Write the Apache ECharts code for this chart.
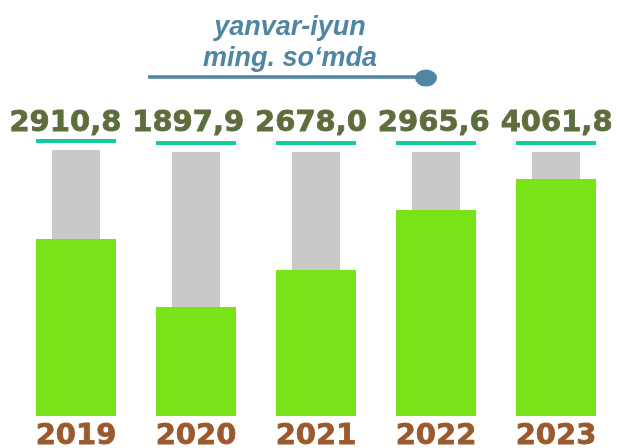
<!DOCTYPE html>
<html>
<head>
<meta charset="utf-8">
<script src="https://cdn.jsdelivr.net/npm/echarts@6/dist/echarts.min.js"></script>
<style>
html, body { margin: 0; padding: 0; background: #fff; }
#chart { width: 617px; height: 448px; }
</style>
</head>
<body>
<div id="chart"></div>
<script>
const years = ['2019', '2020', '2021', '2022', '2023'];
const values = [2910.8, 1897.9, 2678.0, 2965.6, 4061.8];
// bar heights as drawn in the picture (decorative, not proportional to values)
const greenLevels = [177, 109, 146, 206, 237];
const grayLevels = [266, 264, 264, 264, 264];
const titleLines = ['yanvar-iyun', 'ming. so‘mda'];

const blue = '#4f86a3';
const olive = '#5e6d3d';
const brown = '#9b5a2e';

function fmt(v) {
    return v.toFixed(1).replace('.', ',');
}

const chart = echarts.init(document.getElementById('chart'));
chart.setOption({
    animation: false,
    grid: [
        { left: 16, right: 1, top: 150, bottom: 32, outerBoundsMode: 'none' },
        // label row, a bit wider than the bars
        { left: 4, right: -1, top: 100, bottom: 310, outerBoundsMode: 'none' }
    ],
    xAxis: [
        { type: 'category', gridIndex: 0, position: 'top', data: years, show: false },
        {
            type: 'category', gridIndex: 0, position: 'bottom', data: years,
            axisLine: { show: false }, axisTick: { show: false }, splitLine: { show: false },
            axisLabel: {
                interval: 0, margin: 6,
                fontFamily: 'DejaVu Sans', fontWeight: 'bold', fontSize: 29, color: brown,
                textBorderColor: brown, textBorderWidth: 0.8
            }
        },
        { type: 'category', gridIndex: 1, data: years, show: false }
    ],
    yAxis: [
        { type: 'value', gridIndex: 0, min: 0, max: 266, show: false },
        { type: 'value', gridIndex: 1, min: 0, show: false }
    ],
    series: [
        {
            type: 'bar', xAxisIndex: 0, yAxisIndex: 0, data: grayLevels, barWidth: 48,
            silent: true,
            itemStyle: { color: '#c9c9c9' },
            label: {
                show: true, position: 'top', distance: 7,
                formatter: '{u| }',
                rich: { u: { width: 80, height: 4, lineHeight: 4, fontSize: 1, backgroundColor: '#12cc9a' } }
            }
        },
        {
            type: 'bar', xAxisIndex: 1, yAxisIndex: 0, data: greenLevels, barWidth: 80,
            silent: true,
            itemStyle: { color: '#7ae317' }
        },
        {
            type: 'bar', xAxisIndex: 2, yAxisIndex: 1, data: values, barWidth: 80,
            silent: true,
            itemStyle: { color: 'transparent' },
            label: {
                show: true, position: 'insideBottom', distance: 0,
                formatter: p => fmt(p.value),
                fontFamily: 'DejaVu Sans', fontWeight: 'bold', fontSize: 29,
                color: olive, textBorderColor: olive, textBorderWidth: 0.8
            }
        }
    ],
    graphic: [
        {
            type: 'text', x: 290, y: 12,
            style: {
                text: titleLines.join('\n'),
                font: 'italic bold 27px "Liberation Sans"',
                fill: blue, align: 'center', verticalAlign: 'top', lineHeight: 31
            }
        },
        {
            type: 'line',
            shape: { x1: 148, y1: 77, x2: 426, y2: 77 },
            style: { stroke: blue, lineWidth: 3.5 }
        },
        {
            type: 'circle', x: 426, y: 78, scaleY: 0.78,
            shape: { cx: 0, cy: 0, r: 11 },
            style: { fill: blue }
        }
    ]
});
</script>
</body>
</html>
